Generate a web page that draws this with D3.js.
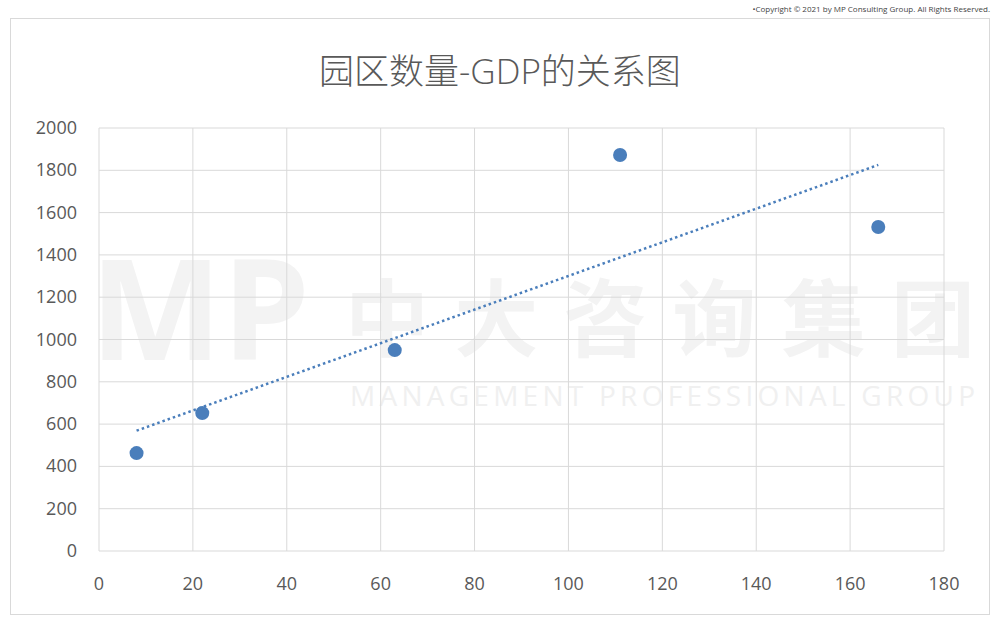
<!DOCTYPE html>
<html><head><meta charset="utf-8">
<script src="https://cdn.jsdelivr.net/npm/d3@7"></script>
<style>body{margin:0;background:#fff}text{font-family:"Open Sans","Noto Sans CJK SC",sans-serif}</style>
</head><body><svg id="c" width="1000" height="622"></svg>
<script>
const xs=[8,22,63,111,166];
const ys=[463,652,950,1872,1532];
const xTicks=[0,20,40,60,80,100,120,140,160,180];
const yTicks=[0,200,400,600,800,1000,1200,1400,1600,1800,2000];
const svg=d3.select("#c");
svg.append("rect").attr("x",10.5).attr("y",18.5).attr("width",979).attr("height",596).attr("fill","#fff").attr("stroke","#d9d9d9");
svg.append("text").attr("x",990).attr("y",12).attr("text-anchor","end").attr("font-size",8).attr("fill","#444").text("•Copyright © 2021 by MP Consulting Group. All Rights Reserved.");
const x=d3.scaleLinear().domain([0,180]).range([99,944]);
const y=d3.scaleLinear().domain([0,2000]).range([551,128]);
svg.append("text").attr("x",90).attr("y",360).attr("font-size",140).attr("font-weight","bold").attr("fill","#f3f3f3").text("MP");
svg.append("text").attr("x",345).attr("y",350).attr("font-size",84).attr("font-weight","bold").attr("fill","#f3f3f3").attr("textLength",630).text("中大咨询集团");
svg.append("text").attr("x",350).attr("y",406).attr("font-size",28).attr("fill","#f0f0f0").attr("textLength",625).text("MANAGEMENT PROFESSIONAL GROUP");
const g=svg.append("g");
yTicks.forEach(t=>g.append("line").attr("x1",99).attr("x2",944).attr("y1",y(t)).attr("y2",y(t)).attr("stroke","#d9d9d9"));
xTicks.forEach(t=>g.append("line").attr("y1",128).attr("y2",551).attr("x1",x(t)).attr("x2",x(t)).attr("stroke","#d9d9d9"));
yTicks.forEach(t=>svg.append("text").attr("x",77).attr("y",y(t)+6).attr("text-anchor","end").attr("font-size",18).attr("fill","#595959").text(t));
xTicks.forEach(t=>svg.append("text").attr("x",x(t)).attr("y",590).attr("text-anchor","middle").attr("font-size",18).attr("fill","#595959").text(t));
svg.append("text").attr("x",500).attr("y",84).attr("text-anchor","middle").attr("font-size",35).attr("font-weight",300).attr("fill","#595959").text("园区数量-GDP的关系图");
const mx=d3.mean(xs),my=d3.mean(ys);
const b=d3.sum(xs,(v,i)=>(v-mx)*(ys[i]-my))/d3.sum(xs,v=>(v-mx)**2),a=my-b*mx;
const x0=d3.min(xs),x1=d3.max(xs);
svg.append("line").attr("x1",x(x0)).attr("y1",y(a+b*x0)).attr("x2",x(x1)).attr("y2",y(a+b*x1)).attr("stroke","#4a7ebb").attr("stroke-width",2.5).attr("stroke-dasharray","2.5,3");
svg.selectAll("circle.p").data(xs).join("circle").attr("cx",d=>x(d)).attr("cy",(d,i)=>y(ys[i])).attr("r",7).attr("fill","#4a7ebb");
</script></body></html>
